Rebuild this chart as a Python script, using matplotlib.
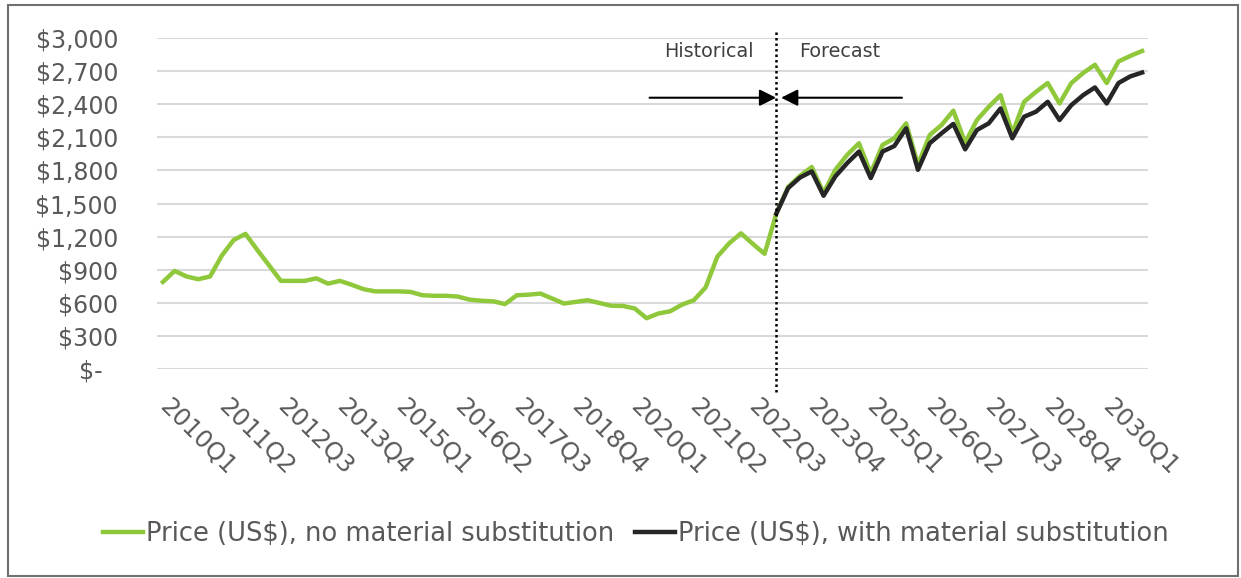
import matplotlib
matplotlib.use("Agg")
import matplotlib.pyplot as plt
from matplotlib.patches import Rectangle

plt.rcParams['font.family'] = ['DejaVu Sans']

# quarterly categories 2010Q1 .. 2030Q4
quarters = [f"{2010 + i // 4}Q{i % 4 + 1}" for i in range(84)]

price_no_sub = [790, 890, 840, 815, 840, 1030, 1170, 1225, 1080, 940,
                800, 800, 800, 823, 775, 800, 765, 725, 705, 705,
                705, 700, 670, 665, 665, 658, 630, 620, 615, 590,
                670, 675, 685, 640, 595, 610, 625, 600, 575, 573,
                550, 462, 505, 525, 585, 625, 740, 1020, 1140, 1230,
                1135, 1045, 1410, 1650, 1750, 1830, 1595, 1805, 1940, 2045,
                1775, 2030, 2090, 2225, 1850, 2120, 2210, 2340, 2050, 2255,
                2375, 2480, 2135, 2420, 2510, 2590, 2405, 2590, 2680, 2755,
                2590, 2785, 2835, 2880]

# substitution scenario only exists from the forecast start
forecast_start = "2023Q1"
price_with_sub = [1410, 1640, 1735, 1790, 1570, 1745, 1865, 1970, 1730, 1970,
                  2020, 2180, 1805, 2045, 2135, 2220, 1990, 2165, 2225, 2360,
                  2090, 2285, 2330, 2420, 2255, 2390, 2480, 2550, 2405, 2590,
                  2650, 2685]

yticks = [0, 300, 600, 900, 1200, 1500, 1800, 2100, 2400, 2700, 3000]
ytick_labels = ["$-  ", "$300", "$600", "$900", "$1,200", "$1,500", "$1,800",
                "$2,100", "$2,400", "$2,700", "$3,000"]

GREEN = "#90C83C"
DARK = "#262626"
GREY_TXT = "#595959"

W, H = 1241, 578
fig = plt.figure(figsize=(W / 100, H / 100), dpi=100)
ax = fig.add_axes([157 / W, 1 - 369.3 / H, (1148 - 157) / W, (369.3 - 37.7) / H])

x = list(range(len(quarters)))
i0 = quarters.index(forecast_start)

ax.plot(x, price_no_sub, color=GREEN, lw=3.2, solid_joinstyle='round',
        label="Price (US$), no material substitution")
ax.plot(x[i0:i0 + len(price_with_sub)], price_with_sub, color=DARK, lw=3.2,
        solid_joinstyle='round', label="Price (US$), with material substitution")

ax.set_xlim(-0.5, len(quarters) - 0.5)
ax.set_ylim(0, 3000)
ax.set_yticks(yticks)
ax.set_yticklabels(ytick_labels)
ax.grid(axis='y', color='#D9D9D9', lw=1.5)
ax.set_axisbelow(True)
for s in ax.spines.values():
    s.set_visible(False)

tick_pos = x[::5][:17]
ax.set_xticks(tick_pos)
ax.set_xticklabels([quarters[i] for i in tick_pos], rotation=-45,
                   ha='left', va='center', rotation_mode='anchor')
ax.tick_params(axis='x', length=0, pad=24, labelsize=17.5, labelcolor=GREY_TXT)
ax.tick_params(axis='y', length=0, pad=28, labelsize=17, labelcolor=GREY_TXT)

# historical / forecast divider
xt = ax.get_xaxis_transform()
ax.plot([i0, i0], [-0.068, 1.023], transform=xt, color='black', lw=1.8,
        ls=(0, (1, 1.2)), clip_on=False)

arrow = dict(arrowstyle='-|>,head_length=0.5,head_width=0.25', color='black',
             lw=1.5, mutation_scale=20, shrinkA=0, shrinkB=0)
ax.annotate("", xy=(i0 - 0.02, 0.819), xytext=(i0 - 10.75, 0.819),
            xycoords=xt, textcoords=xt, arrowprops=arrow)
ax.annotate("", xy=(i0 + 0.4, 0.819), xytext=(i0 + 10.65, 0.819),
            xycoords=xt, textcoords=xt, arrowprops=arrow)
ax.text(i0 - 1.95, 0.958, "Historical", transform=xt, ha='right', va='center',
        fontsize=13.8, color='#404040')
ax.text(i0 + 1.9, 0.958, "Forecast", transform=xt, ha='left', va='center',
        fontsize=13.8, color='#404040')

fig.legend(loc='center', bbox_to_anchor=(0.5125, 1 - 534 / H), ncol=2,
           frameon=False, fontsize=18.5, labelcolor=GREY_TXT,
           handlelength=1.56, handletextpad=0.12, columnspacing=0.8)

# outer chart border
fig.patches.append(Rectangle((8 / W, 1 - 576 / H), (1238 - 8) / W, (576 - 5) / H,
                             transform=fig.transFigure, fill=False,
                             edgecolor='#707070', lw=1.5))

fig.savefig("out.png", dpi=100)
